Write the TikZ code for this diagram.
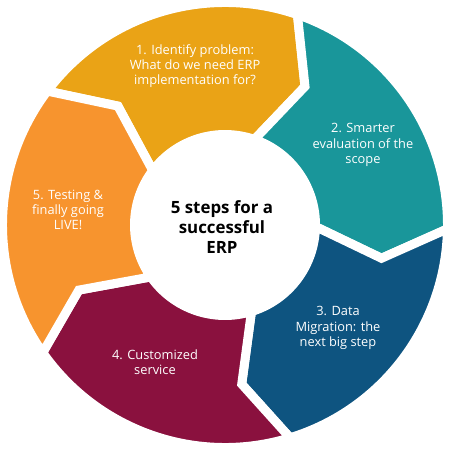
\documentclass[tikz,border=0pt]{standalone}
\usepackage{fontspec}
\setmainfont{Open Sans}

\definecolor{stepone}{HTML}{EAA316}
\definecolor{steptwo}{HTML}{19969A}
\definecolor{stepthree}{HTML}{0E5480}
\definecolor{stepfour}{HTML}{8A113E}
\definecolor{stepfive}{HTML}{F7942E}

\begin{document}
\begin{tikzpicture}[segment/.style = {draw=white, line width=5.1pt},
    steplabel/.style = {text=white, align=center, font=\fontsize{7.3}{8.6}\selectfont}]
    \useasboundingbox (-4.5,-4.5) rectangle (4.5,4.5);

    % five chevron rings, clockwise
    \foreach \a/\col in {143/stepone, 71/steptwo, -1/stepthree, -73/stepfour, -145/stepfive}
        \filldraw[segment, fill=\col] (\a:4.45) arc[start angle=\a, end angle=\a-72, radius=4.45]
            -- (\a-83:3.2) -- (\a-72:1.81) arc[start angle=\a-72, end angle=\a, radius=1.81]
            -- (\a-11:3.2) -- cycle;

    \node[font=\bfseries\fontsize{9.6}{11.3}\selectfont, align=center] (hub) at (-0.06,-0.04) {5 steps for a\\successful\\ERP};

    \node[steplabel] (step1) at (-0.6,3.18) {1. Identify problem:\\What do we need ERP\\implementation for?};
    \node[steplabel] (step2) at (2.76,1.6) {2. Smarter\\evaluation of the\\scope};
    \node[steplabel] (step3) at (2.26,-2.06) {3. Data\\Migration: the\\next big step};
    \node[steplabel] (step4) at (-1.4,-2.74) {4. Customized\\service};
    \node[steplabel] (step5) at (-3.14,0.3) {5. Testing \&\\finally going\\LIVE!};
\end{tikzpicture}
\end{document}
